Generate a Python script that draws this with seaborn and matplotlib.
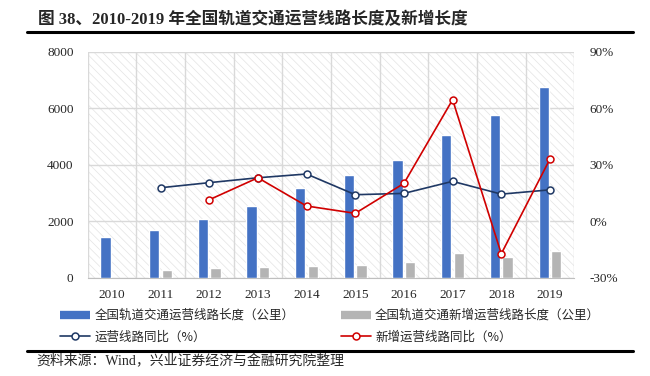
import matplotlib
matplotlib.use("Agg")
import matplotlib.pyplot as plt
import seaborn as sns
import pandas as pd
import numpy as np
from matplotlib.lines import Line2D
from matplotlib.patches import Rectangle
from matplotlib.ticker import FuncFormatter

# ---- data ----
years = ["2010", "2011", "2012", "2013", "2014", "2015", "2016", "2017", "2018", "2019"]
total_len = [1429, 1699, 2064, 2539, 3173, 3618, 4153, 5033, 5761, 6736]
new_len = [np.nan, 275, 320, 385, 410, 435, 535, 875, 725, 955]
total_yoy = [np.nan, 17.7, 20.4, 23.0, 25.0, 14.0, 14.7, 21.1, 14.3, 16.6]
new_yoy = [np.nan, np.nan, 11.3, 23.0, 8.0, 4.1, 20.0, 64.5, -17.4, 33.0]

s_total = "全国轨道交通运营线路长度（公里）"
s_new = "全国轨道交通新增运营线路长度（公里）"
s_tyoy = "运营线路同比（%）"
s_nyoy = "新增运营线路同比（%）"

title = "图 38、2010-2019 年全国轨道交通运营线路长度及新增长度"
source = "资料来源：Wind，兴业证券经济与金融研究院整理"

c_blue = "#4472C4"
c_gray = "#B4B4B4"
c_navy = "#1F3864"
c_red = "#D00000"

sns.set_style("white")
plt.rcParams["font.family"] = ["Liberation Serif", "Noto Sans CJK SC", "DejaVu Sans"]
plt.rcParams["hatch.linewidth"] = 0.5

fig = plt.figure(figsize=(6.5, 3.76), dpi=100)
ax = fig.add_axes([87.5 / 650, 1 - 277.5 / 376, (574.3 - 87.5) / 650, (277.5 - 51.7) / 376])

# hatched background
bg = Rectangle((0, 0), 1, 1, transform=ax.transAxes, facecolor="white",
               edgecolor="#e4e4e4", hatch="\\\\\\\\", lw=0, zorder=0)
ax.add_patch(bg)

bars = pd.DataFrame({
    "year": years * 2,
    "series": [s_total] * len(years) + [s_new] * len(years),
    "value": total_len + new_len,
})
sns.barplot(data=bars, x="year", y="value", hue="series", hue_order=[s_total, s_new],
            palette=[c_blue, c_gray], width=0.52, gap=0.19, saturation=1,
            ax=ax, legend=False, zorder=3, err_kws={"linewidth": 0})

ax.set_xlim(-0.5, len(years) - 0.5)
ax.set_ylim(0, 8000)
ax.set_yticks([0, 2000, 4000, 6000, 8000])
ax.set_xlabel("")
ax.set_ylabel("")
ax.set_xticks(range(len(years)))
ax.set_xticklabels(years)
ax.set_xticks(np.arange(-0.5, len(years), 1.0), minor=True)
ax.grid(axis="y", which="major", color="#d9d9d9", lw=1, zorder=1)
ax.grid(axis="x", which="minor", color="#d9d9d9", lw=1, zorder=1)
ax.grid(axis="x", which="major", visible=False)
ax.set_axisbelow(True)
for sp in ["top", "right", "left"]:
    ax.spines[sp].set_visible(False)
ax.spines["bottom"].set_color("#bfbfbf")
ax.tick_params(axis="x", which="major", length=0, pad=8, labelsize=9.5)
ax.tick_params(axis="x", which="minor", length=4, color="#bfbfbf", width=1)
ax.tick_params(axis="y", length=0, pad=10, labelsize=9.5)

ax2 = ax.twinx()
pos = np.arange(len(years))
lines = pd.DataFrame({"pos": np.concatenate([pos, pos]),
                      "series": [s_tyoy] * len(years) + [s_nyoy] * len(years),
                      "value": total_yoy + new_yoy}).dropna()
for name, col in [(s_tyoy, c_navy), (s_nyoy, c_red)]:
    d = lines[lines["series"] == name]
    sns.lineplot(data=d, x="pos", y="value", ax=ax2, color=col, lw=1.2,
                 marker="o", markersize=5, markerfacecolor="white",
                 markeredgecolor=col, markeredgewidth=1.1, legend=False)
ax2.set_ylim(-30, 90)
ax2.set_yticks([-30, 0, 30, 60, 90])
ax2.yaxis.set_major_formatter(FuncFormatter(lambda v, p: f"{int(v)}%"))
ax2.set_xlim(-0.5, len(years) - 0.5)
ax2.set_xlabel("")
ax2.set_ylabel("")
ax2.tick_params(axis="y", length=0, pad=11, labelsize=9.5)
for sp in ax2.spines.values():
    sp.set_visible(False)

# legend
handles = [
    Line2D([], [], color=c_blue, lw=6, solid_capstyle="butt"),
    Line2D([], [], color=c_navy, lw=1.2, marker="o", markersize=5,
           markerfacecolor="white", markeredgecolor=c_navy, markeredgewidth=1.1),
    Line2D([], [], color=c_gray, lw=6, solid_capstyle="butt"),
    Line2D([], [], color=c_red, lw=1.2, marker="o", markersize=5,
           markerfacecolor="white", markeredgecolor=c_red, markeredgewidth=1.1),
]
labels = [s_total, s_tyoy, s_new, s_nyoy]
fig.legend(handles, labels, ncol=2, loc="upper left",
           bbox_to_anchor=(60 / 650, 1 - 309 / 376), frameon=False,
           handlelength=2.4, handletextpad=0.35, columnspacing=3.7,
           labelspacing=0.7, borderpad=0, borderaxespad=0,
           prop={"family": ["Noto Sans CJK SC"], "size": 9})

# title, rules, source
fig.text(37.5 / 650, 1 - 20 / 376, title, fontsize=12, fontweight="bold",
         va="center", ha="left",
         family=["Liberation Serif", "Noto Sans CJK SC"])
fig.add_artist(Line2D([27 / 650, 633 / 650], [1 - 32 / 376, 1 - 32 / 376],
                      color="black", lw=2.2))
fig.add_artist(Line2D([27 / 650, 633 / 650], [1 - 350.5 / 376, 1 - 350.5 / 376],
                      color="black", lw=2.2))
fig.text(36.5 / 650, 1 - 361 / 376, source, fontsize=10, va="center", ha="left",
         family=["Liberation Serif", "Noto Sans CJK SC"])

fig.savefig("out.png", dpi=100)
